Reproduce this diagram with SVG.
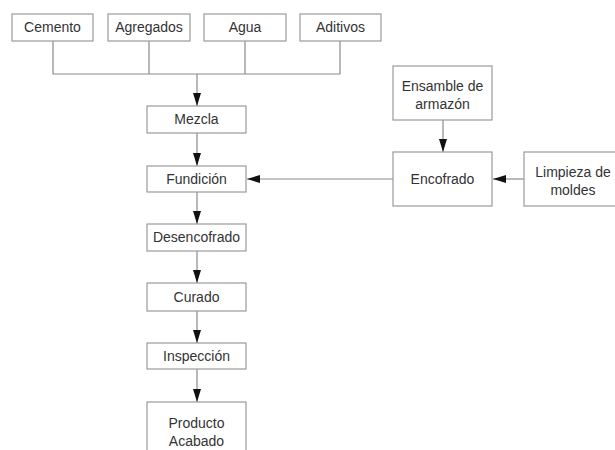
<svg xmlns="http://www.w3.org/2000/svg" width="615" height="450" viewBox="0 0 615 450">
<defs>
<style>
.box{fill:#fff;stroke:#9a9a9a;stroke-width:1.2}
.t{font-family:"Liberation Sans",Arial,sans-serif;font-size:14px;fill:#333;text-anchor:middle}
.ln{fill:none;stroke:#8a8a8a;stroke-width:1.2}
</style>
<marker id="ah" markerWidth="13" markerHeight="8" refX="13" refY="4" orient="auto" markerUnits="userSpaceOnUse">
<path d="M0,0 L13,4 L0,8 Z" fill="#111"/>
</marker>
</defs>
<rect width="615" height="450" fill="#fff"/>
<g id="connectors">
<path class="ln" d="M53,41 V74 H340 V41 M149,41 V74 M245,41 V74"/>
<path class="ln" d="M197,74 V106" marker-end="url(#ah)"/>
<path class="ln" d="M197,133 V166" marker-end="url(#ah)"/>
<path class="ln" d="M197,192 V224" marker-end="url(#ah)"/>
<path class="ln" d="M197,251 V283" marker-end="url(#ah)"/>
<path class="ln" d="M197,311 V343" marker-end="url(#ah)"/>
<path class="ln" d="M197,369 V402" marker-end="url(#ah)"/>
<path class="ln" d="M393,179 H247" marker-end="url(#ah)"/>
<path class="ln" d="M443,120 V152" marker-end="url(#ah)"/>
<path class="ln" d="M524,179 H493" marker-end="url(#ah)"/>
</g>
<g id="cemento"><rect class="box" x="12" y="14" width="81" height="27"/><text class="t" x="52.5" y="32">Cemento</text></g>
<g id="agregados"><rect class="box" x="108" y="14" width="82" height="27"/><text class="t" x="149" y="32">Agregados</text></g>
<g id="agua"><rect class="box" x="204" y="14" width="82" height="27"/><text class="t" x="245" y="32">Agua</text></g>
<g id="aditivos"><rect class="box" x="300" y="14" width="81" height="27"/><text class="t" x="340.5" y="32">Aditivos</text></g>
<g id="mezcla"><rect class="box" x="147" y="106" width="99" height="27"/><text class="t" x="196.5" y="124">Mezcla</text></g>
<g id="fundicion"><rect class="box" x="147" y="166" width="99" height="26"/><text class="t" x="196.5" y="184">Fundición</text></g>
<g id="desencofrado"><rect class="box" x="147" y="224" width="99" height="27"/><text class="t" x="196.5" y="242">Desencofrado</text></g>
<g id="curado"><rect class="box" x="147" y="283" width="99" height="28"/><text class="t" x="196.5" y="302">Curado</text></g>
<g id="inspeccion"><rect class="box" x="147" y="343" width="99" height="26"/><text class="t" x="196.5" y="361">Inspección</text></g>
<g id="producto"><rect class="box" x="147" y="402" width="99" height="60"/><text class="t" x="196.5" y="428">Producto</text><text class="t" x="196.5" y="446">Acabado</text></g>
<g id="ensamble"><rect class="box" x="393" y="66" width="99" height="54"/><text class="t" x="442.5" y="91">Ensamble de</text><text class="t" x="442.5" y="109">armazón</text></g>
<g id="encofrado"><rect class="box" x="393" y="152" width="99" height="54"/><text class="t" x="442.5" y="184">Encofrado</text></g>
<g id="limpieza"><rect class="box" x="524" y="152" width="99" height="54"/><text class="t" x="573" y="177">Limpieza de</text><text class="t" x="573" y="195">moldes</text></g>
</svg>
